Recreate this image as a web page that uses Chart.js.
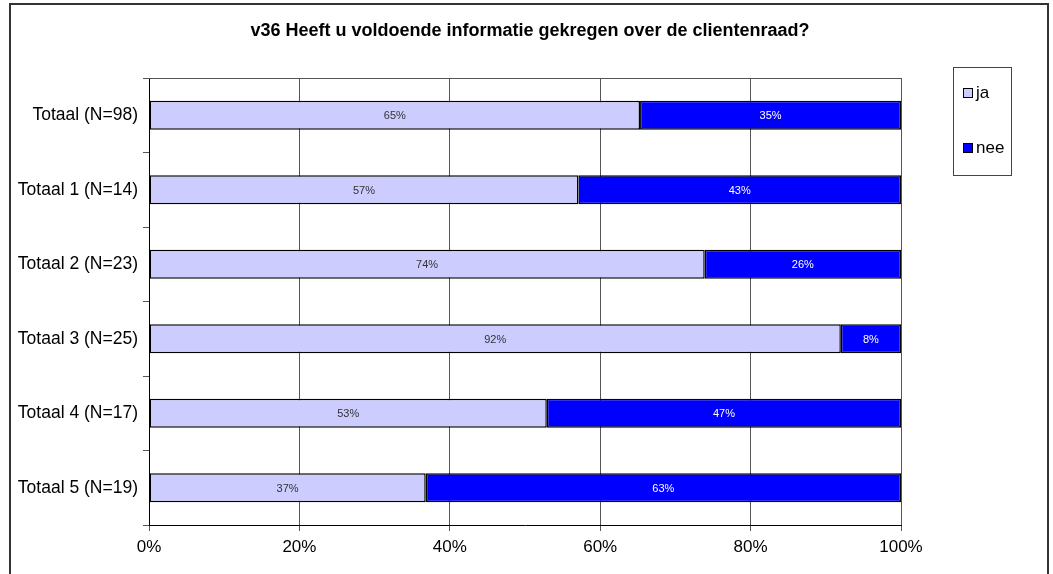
<!DOCTYPE html>
<html>
<head>
<meta charset="utf-8">
<script src="https://cdn.jsdelivr.net/npm/chart.js@4/dist/chart.umd.min.js"></script>
<style>
  html, body { margin: 0; padding: 0; background: #fff; }
  #wrap { width: 1053px; height: 574px; position: relative; }
</style>
</head>
<body>
<div id="wrap"><canvas id="c" width="1053" height="574"></canvas></div>
<script>
const chartTitle = "v36 Heeft u voldoende informatie gekregen over de clientenraad?";
const categories = ["Totaal (N=98)", "Totaal 1 (N=14)", "Totaal 2 (N=23)", "Totaal 3 (N=25)", "Totaal 4 (N=17)", "Totaal 5 (N=19)"];
const jaValues  = [65.3, 57.1, 73.9, 92.0, 52.9, 36.8];
const neeValues = [34.7, 42.9, 26.1, 8.0, 47.1, 63.2];
const xTicks = [0, 20, 40, 60, 80, 100];
const seriesNames = ["ja", "nee"];
const seriesColors = ["#CCCCFF", "#0000FF"];
const labelColors = ["#333333", "#FFFFFF"];

const FONT = "'Liberation Sans', Arial, sans-serif";

const framePlugin = {
  id: 'frame',
  beforeDraw(chart) {
    const ctx = chart.ctx;
    ctx.save();
    ctx.fillStyle = '#fff';
    ctx.fillRect(0, 0, chart.width, chart.height);
    ctx.strokeStyle = '#333';
    ctx.lineWidth = 2;
    ctx.strokeRect(10, 4, 1038, 620);
    // title
    ctx.fillStyle = '#000';
    ctx.font = "bold 18px " + FONT;
    ctx.textAlign = 'center';
    ctx.textBaseline = 'middle';
    ctx.fillText(chartTitle, 530, 31);
    ctx.restore();
  },
  beforeDatasetsDraw(chart) {
    const ctx = chart.ctx;
    const a = chart.chartArea;
    ctx.save();
    ctx.strokeStyle = '#555';
    ctx.lineWidth = 1;
    ctx.beginPath();
    ctx.moveTo(a.left, a.top + 0.5);
    ctx.lineTo(a.right, a.top + 0.5);
    ctx.stroke();
    ctx.restore();
  },
  afterDatasetsDraw(chart) {
    const ctx = chart.ctx;
    ctx.save();
    ctx.font = "11px " + FONT;
    ctx.textAlign = 'center';
    ctx.textBaseline = 'middle';
    chart.data.datasets.forEach((ds, di) => {
      const meta = chart.getDatasetMeta(di);
      meta.data.forEach((el, i) => {
        const v = ds.data[i];
        const cx = (el.x + el.base) / 2;
        ctx.fillStyle = labelColors[di];
        ctx.fillText(Math.round(v) + '%', cx, el.y + 1);
      });
    });
    // legend
    ctx.strokeStyle = '#444';
    ctx.lineWidth = 1;
    ctx.strokeRect(953.5, 67.5, 58, 108);
    const ys = [93, 148];
    ctx.font = "17px " + FONT;
    ctx.textAlign = 'left';
    seriesNames.forEach((n, i) => {
      ctx.fillStyle = seriesColors[i];
      ctx.fillRect(963, ys[i] - 5, 10, 10);
      ctx.strokeStyle = '#000';
      ctx.strokeRect(963.5, ys[i] - 4.5, 9, 9);
      ctx.fillStyle = '#000';
      ctx.fillText(n, 976, ys[i]);
    });
    ctx.restore();
  }
};

new Chart(document.getElementById('c'), {
  type: 'bar',
  data: {
    labels: categories,
    datasets: [
      { label: seriesNames[0], data: jaValues, backgroundColor: seriesColors[0], borderColor: '#000', borderWidth: 1.5, borderSkipped: false, barPercentage: 0.39, categoryPercentage: 1 },
      { label: seriesNames[1], data: neeValues, backgroundColor: seriesColors[1], borderColor: '#000', borderWidth: 1.5, borderSkipped: false, barPercentage: 0.39, categoryPercentage: 1 }
    ]
  },
  options: {
    indexAxis: 'y',
    responsive: false,
    animation: false,
    layout: { padding: { left: 0, top: 78, right: 152, bottom: 0 } },
    plugins: {
      legend: { display: false },
      title: { display: false },
      tooltip: { enabled: false }
    },
    scales: {
      x: {
        stacked: true,
        min: 0, max: 100,
        afterFit(s) { s.height = 49; },
        afterBuildTicks(s) { s.ticks = xTicks.map(v => ({ value: v })); },
        grid: { color: '#555', lineWidth: 1, tickLength: 6, drawOnChartArea: true },
        border: { color: '#000', width: 1 },
        ticks: {
          color: '#000',
          font: { family: FONT, size: 17 },
          padding: 6,
          maxRotation: 0,
          callback: v => v + '%'
        }
      },
      y: {
        stacked: true,
        afterFit(s) { s.width = 149; },
        grid: { offset: true, drawOnChartArea: false, color: '#555', tickLength: 6 },
        border: { color: '#000', width: 1 },
        ticks: {
          color: '#000',
          font: { family: FONT, size: 17.5 },
          padding: 5
        }
      }
    }
  },
  plugins: [framePlugin]
});
</script>
</body>
</html>
